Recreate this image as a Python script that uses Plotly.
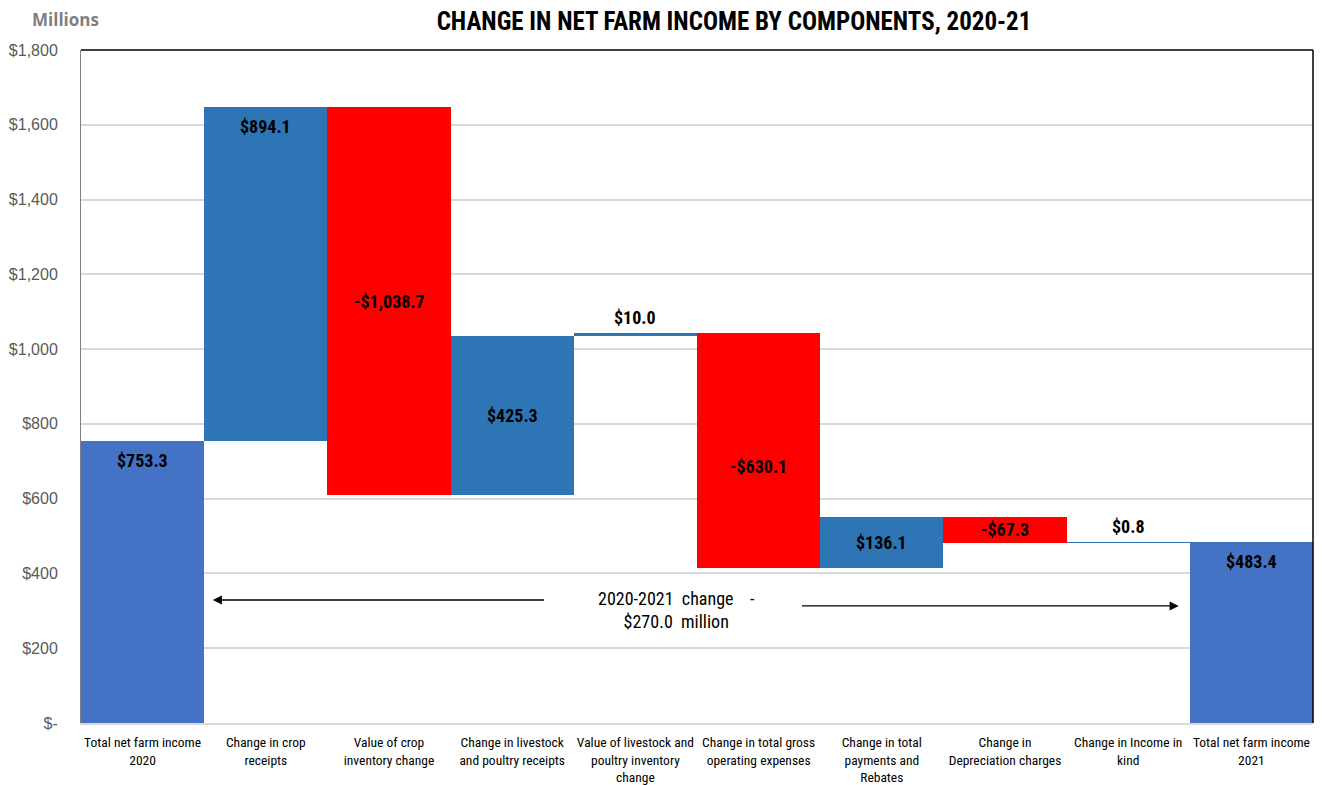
import plotly.graph_objects as go

categories = [
    "Total net farm income<br>2020",
    "Change in crop<br>receipts",
    "Value of crop<br>inventory change",
    "Change in livestock<br>and poultry receipts",
    "Value of livestock and<br>poultry inventory<br>change",
    "Change in total gross<br>operating expenses",
    "Change in total<br>payments and<br>Rebates",
    "Change in<br>Depreciation charges",
    "Change in Income in<br>kind",
    "Total net farm income<br>2021",
]
values = [753.3, 894.1, -1038.7, 425.3, 10.0, -630.1, 136.1, -67.3, 0.8, 483.4]
kinds = ["total", "rel", "rel", "rel", "rel", "rel", "rel", "rel", "rel", "total"]
labels = ["$753.3", "$894.1", "-$1,038.7", "$425.3", "$10.0", "-$630.1",
          "$136.1", "-$67.3", "$0.8", "$483.4"]
# where the label sits: 'top' = inside near top, 'mid' = middle, 'above' = above bar
label_pos = ["top", "top", "mid", "mid", "above", "mid", "mid", "mid", "above", "top"]
y_ticks = [0, 200, 400, 600, 800, 1000, 1200, 1400, 1600, 1800]
y_tick_text = ["$-", "$200", "$400", "$600", "$800", "$1,000", "$1,200", "$1,400", "$1,600", "$1,800"]
change_text = "2020-2021  change    -<br>$270.0  million"

C_TOTAL = "#4472C4"
C_UP = "#2E75B6"
C_DOWN = "#FF0000"
NARROW = "Roboto Condensed, Liberation Sans Narrow, Arial Narrow, DejaVu Sans Condensed, sans-serif"

W, H = 1322, 785
OFF = 8  # page offset of the figure in the browser

bases, heights, colors = [], [], []
run = 0.0
for v, k in zip(values, kinds):
    if k == "total":
        bases.append(0.0); heights.append(v); colors.append(C_TOTAL); run = v
    else:
        if v >= 0:
            bases.append(run); heights.append(v); colors.append(C_UP)
        else:
            bases.append(run + v); heights.append(-v); colors.append(C_DOWN)
        run += v

xs = list(range(len(values)))
fig = go.Figure(go.Bar(x=xs, y=heights, base=bases, marker=dict(color=colors, line=dict(width=0)),
                       width=1.0, hoverinfo="skip"))

anns = []
for i, (b, h, lab, pos) in enumerate(zip(bases, heights, labels, label_pos)):
    top = b + h
    if pos == "top":
        y, ya = top - 18, "top"
    elif pos == "mid":
        y, ya = b + h / 2, "middle"
    else:
        y, ya = top + 8, "bottom"
    if i == 5:
        y = b + h * 0.43
    anns.append(dict(x=i, y=y, xref="x", yref="y", text="<b>" + lab + "</b>", showarrow=False, yanchor=ya,
                     font=dict(family=NARROW, size=18, color="black")))
# change arrows
anns.append(dict(x=0.57, y=329, ax=3.27, ay=329, xref="x", yref="y", axref="x", ayref="y",
                 showarrow=True, arrowhead=2, arrowsize=1.4, arrowwidth=1.3, arrowcolor="black", text=""))
anns.append(dict(x=8.41, y=313, ax=5.34, ay=313, xref="x", yref="y", axref="x", ayref="y",
                 showarrow=True, arrowhead=2, arrowsize=1.4, arrowwidth=1.3, arrowcolor="black", text=""))
anns.append(dict(x=4.33, y=302, xref="x", yref="y", text=change_text, showarrow=False,
                 font=dict(family=NARROW, size=18, color="black"), align="center"))
anns.append(dict(x=-51 / 1232, y=1 + 30 / 673, xref="paper", yref="paper", xanchor="left",
                 yanchor="middle", text="<b>Millions</b>", showarrow=False,
                 font=dict(family="Open Sans, Liberation Sans, sans-serif", size=17, color="#7F7F7F")))

fig.update_layout(
    width=W, height=H,
    margin=dict(l=81 - OFF, r=W - (1313 - OFF), t=50 - OFF, b=H - (723 - OFF), autoexpand=False),
    paper_bgcolor="white", plot_bgcolor="white",
    showlegend=False, bargap=0,
    title=dict(text="<b>CHANGE IN NET FARM INCOME BY COMPONENTS, 2020-21</b>", x=(734 - OFF) / W,
               xanchor="center", xref="container", yref="container",
               y=1 - (21 - OFF) / H, yanchor="middle", font=dict(family=NARROW, size=25, color="black")),
    xaxis=dict(range=[-0.5, 9.5], tickmode="array", tickvals=xs, ticktext=categories, tickangle=0,
               automargin=False, ticklabelstandoff=6,
               showgrid=False, showline=True, linecolor="#D9D9D9", linewidth=2, ticks="",
               tickfont=dict(family=NARROW, size=13.5, color="black"), zeroline=False, fixedrange=True),
    yaxis=dict(range=[0, 1800], tickmode="array", tickvals=y_ticks, ticktext=y_tick_text,
               automargin=False,
               showgrid=True, gridcolor="#D9D9D9", gridwidth=1.5, showline=True, linecolor="#808080",
               linewidth=1, ticks="", zeroline=False, ticklabelstandoff=19,
               tickfont=dict(family="Liberation Sans, Arial, sans-serif", size=16, color="#595959")),
    annotations=anns,
    shapes=[
        dict(type="line", xref="paper", yref="paper", x0=0, x1=1, y0=1, y1=1, line=dict(color="black", width=1.5)),
        dict(type="line", xref="paper", yref="paper", x0=1, x1=1, y0=0, y1=1, line=dict(color="black", width=1.5)),
    ],
)

fig.write_html("out.html")
